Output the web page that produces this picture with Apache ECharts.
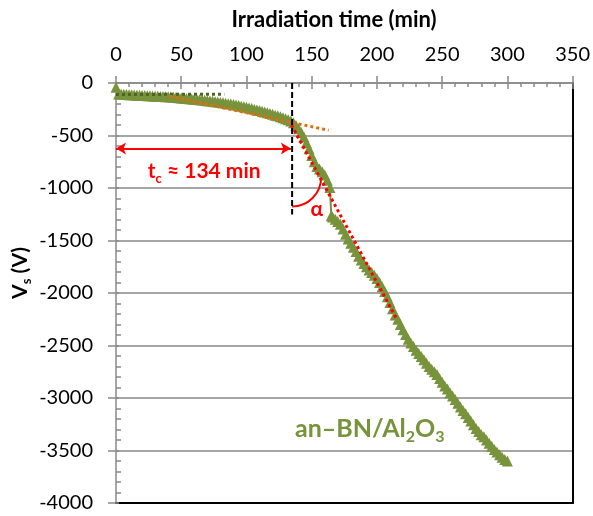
<!DOCTYPE html>
<html><head><meta charset="utf-8">
<script src="https://cdn.jsdelivr.net/npm/echarts@6/dist/echarts.min.js"></script>
<style>html,body{margin:0;padding:0;background:#fff}#c{width:593px;height:516px}</style>
</head><body><div id="c"></div>
<script>
// ---- data ----
const timeMin = [0,2,4,6,8,10,12,14,16,18,20,22,24,26,28,30,32,34,36,38,40,42,44,46,48,50,52,54,56,58,60,62,64,66,68,70,72,74,76,78,80,82,84,86,88,90,92,94,96,98,100,102,104,106,108,110,112,114,116,118,120,122,124,126,128,130,132,134,136,138,140,142,144,146,148,150,152,154,156,158,160,162,164,165,166,168,170,172,174,176,178,180,182,184,186,188,190,192,194,196,198,200,202,204,206,208,210,212,214,216,218,220,222,224,226,228,230,232,234,236,238,240,242,244,246,248,250,252,254,256,258,260,262,264,266,268,270,272,274,276,278,280,282,284,286,288,290,292,294,296,298,300];
const vsVolt = [-40,-104,-106,-108,-110,-112,-113,-114,-116,-117,-118,-120,-121,-122,-124,-125,-127,-128,-129,-131,-132,-134,-136,-138,-140,-142,-145,-147,-150,-152,-155,-158,-160,-163,-165,-168,-171,-174,-178,-181,-185,-189,-193,-197,-201,-205,-210,-215,-221,-226,-232,-238,-244,-250,-256,-262,-269,-276,-283,-290,-298,-306,-313,-321,-330,-340,-350,-362,-378,-405,-435,-472,-515,-570,-625,-690,-750,-795,-820,-845,-875,-925,-995,-1265,-1275,-1298,-1320,-1345,-1390,-1440,-1485,-1525,-1565,-1605,-1650,-1685,-1720,-1750,-1780,-1805,-1830,-1862,-1900,-1940,-1985,-2035,-2090,-2150,-2210,-2250,-2300,-2350,-2395,-2440,-2475,-2510,-2545,-2575,-2605,-2635,-2670,-2700,-2725,-2750,-2775,-2815,-2850,-2885,-2915,-2950,-2980,-3015,-3050,-3085,-3120,-3150,-3185,-3220,-3255,-3290,-3320,-3350,-3370,-3400,-3430,-3460,-3490,-3515,-3540,-3565,-3585,-3600];

const xTickValues = [0,50,100,150,200,250,300,350];
const yTickValues = [0,-500,-1000,-1500,-2000,-2500,-3000,-3500,-4000];

// trend lines (end points in data units)
const fitInitial = [[0,-110],[83,-106]];
const fitMiddle = [[41,-127],[163,-450]];
const fitFinal = [[134.5,-400],[215.5,-2255]];
// annotations (data units)
const tcValue = 134;
const tcMarker = [[135,0],[135,-1252]];
const tcArrow = [[0,-624],[134,-624]];
const tcLabelAt = [[67.6,-840]];
const arcCenter = [[135,-900]];
const alphaAt = [[154,-1205]];
const sampleLabelAt = [[194.5,-3290]];

const xTitle = 'Irradiation time (min)';
const sampleName = ['an–BN/Al','2','O','3'];

// ---- chart ----
const GRAY = '#898989';
const FONT = 'Lato';
const xMin = xTickValues[0], xMax = xTickValues[xTickValues.length-1], xInt = xTickValues[1]-xTickValues[0];
const yMax = yTickValues[0], yMin = yTickValues[yTickValues.length-1], yInt = yTickValues[0]-yTickValues[1];

const pairs = timeMin.map((t,i)=>[t, vsVolt[i]]);

function textItem(richText, rich, color){
  return function(params, api){
    const p = api.coord([api.value(0), api.value(1)]);
    return {type:'text', x:p[0], y:p[1], style:{text:richText, rich:rich, align:'center', verticalAlign:'middle', fill:color}};
  };
}

const chart = echarts.init(document.getElementById('c'), null, {renderer:'canvas'});
chart.setOption({
  animation:false,
  backgroundColor:'#fff',
  grid:{left:116, right:19, top:83, bottom:13, containLabel:false},
  xAxis:[
    {type:'value', position:'top', min:xMin, max:xMax, interval:xInt,
     axisLine:{show:true, onZero:false, lineStyle:{color:GRAY, width:1.5}},
     axisTick:{show:true, inside:false, length:7, lineStyle:{color:GRAY, width:1.5}},
     minorTick:{show:false},
     axisLabel:{show:true, margin:18, fontFamily:FONT, fontSize:20, color:'#000', formatter:v=>String(v)},
     splitLine:{show:false}},
    {type:'value', position:'top', min:xMin, max:xMax, interval:xInt,
     axisLine:{show:false, onZero:false},
     axisTick:{show:true, inside:true, length:6, lineStyle:{color:GRAY, width:1.5}},
     minorTick:{show:true, splitNumber:5, length:4, lineStyle:{color:GRAY, width:1.5}},
     axisLabel:{show:false}, splitLine:{show:false}},
    {type:'value', position:'bottom', min:xMin, max:xMax, interval:xInt,
     axisLine:{show:true, onZero:false, lineStyle:{color:'#000', width:2}},
     axisTick:{show:false}, axisLabel:{show:false}, splitLine:{show:false}}
  ],
  yAxis:[
    {type:'value', position:'left', min:yMin, max:yMax, interval:yInt,
     axisLine:{show:true, onZero:false, lineStyle:{color:GRAY, width:1.5}},
     axisTick:{show:true, inside:false, length:8, lineStyle:{color:GRAY, width:1.5}},
     minorTick:{show:false},
     axisLabel:{show:true, margin:23, fontFamily:FONT, fontSize:20, color:'#000', formatter:v=>String(v)},
     splitLine:{show:true, lineStyle:{color:GRAY, width:1.5}}},
    {type:'value', position:'left', min:yMin, max:yMax, interval:yInt,
     axisLine:{show:false, onZero:false},
     axisTick:{show:true, inside:true, length:3, lineStyle:{color:GRAY, width:1.5}},
     minorTick:{show:true, splitNumber:5, length:5, lineStyle:{color:GRAY, width:1.5}},
     axisLabel:{show:false}, splitLine:{show:false}},
    {type:'value', position:'right', min:yMin, max:yMax, interval:yInt,
     axisLine:{show:true, onZero:false, lineStyle:{color:'#000', width:2}},
     axisTick:{show:false}, axisLabel:{show:false}, splitLine:{show:false}}
  ],
  graphic:[
    {type:'text', x:334, y:20, style:{text:xTitle, font:'bold 22px Lato', fill:'#000', align:'center', verticalAlign:'middle'}},
    {type:'text', x:20, y:273, rotation:Math.PI/2,
     style:{text:'{b|V}{s|s}{b| (V)}', align:'center', verticalAlign:'middle', fill:'#000',
       rich:{b:{fontFamily:FONT, fontWeight:'bold', fontSize:21, lineHeight:26, fill:'#000'},
             s:{fontFamily:FONT, fontWeight:'bold', fontSize:13, lineHeight:26, verticalAlign:'bottom', fill:'#000'}}}}
  ],
  series:[
    {type:'line', name:'an-BN/Al2O3', data:pairs, xAxisIndex:0, yAxisIndex:0,
     symbol:'triangle', symbolSize:11, showSymbol:true, showAllSymbol:true,
     itemStyle:{color:'#77933c'}, lineStyle:{color:'#77933c', width:2}, z:3, silent:true},
    {type:'line', data:fitInitial, symbol:'none', z:4, silent:true,
     lineStyle:{color:'#4f6228', width:3, type:[3,3]}},
    {type:'line', data:fitMiddle, symbol:'none', z:4, silent:true,
     lineStyle:{color:'#e46c0a', width:3, type:[3,3]}},
    {type:'line', data:fitFinal, symbol:'none', z:4, silent:true,
     lineStyle:{color:'#ff0000', width:3, type:[3,3]}},
    {type:'line', data:tcMarker, symbol:'none', z:5, silent:true,
     lineStyle:{color:'#000', width:2, type:[6,3]},
     markLine:{silent:true, symbol:['arrow','arrow'], symbolSize:[9,10], label:{show:false},
       lineStyle:{color:'#ff0000', width:2, type:'solid'},
       data:[[{coord:tcArrow[0]},{coord:tcArrow[1]}]]}},
    {type:'custom', data:arcCenter, z:5, silent:true,
     renderItem:function(params, api){
       const c = api.coord([api.value(0), api.value(1)]);
       return {type:'arc', shape:{cx:c[0], cy:c[1], r:29, startAngle:0, endAngle:Math.PI/2, clockwise:true},
         style:{stroke:'#ff0000', lineWidth:2, fill:null}};
     }},
    {type:'custom', data:tcLabelAt, z:6, silent:true,
     renderItem:textItem('{b|t}{s|c}{b| ≈ ' + tcValue + ' min}',
       {b:{fontFamily:FONT, fontWeight:'bold', fontSize:21, lineHeight:28, fill:'#ff0000'},
        s:{fontFamily:FONT, fontWeight:'bold', fontSize:13, lineHeight:28, verticalAlign:'bottom', fill:'#ff0000'}}, '#ff0000')},
    {type:'custom', data:alphaAt, z:6, silent:true,
     renderItem:textItem('{b|α}', {b:{fontFamily:FONT, fontWeight:'bold', fontSize:21, fill:'#ff0000'}}, '#ff0000')},
    {type:'custom', data:sampleLabelAt, z:6, silent:true,
     renderItem:textItem('{b|' + sampleName[0] + '}{s|' + sampleName[1] + '}{b|' + sampleName[2] + '}{s|' + sampleName[3] + '}',
       {b:{fontFamily:FONT, fontWeight:'bold', fontSize:25, lineHeight:32, fill:'#77933c'},
        s:{fontFamily:FONT, fontWeight:'bold', fontSize:16, lineHeight:32, verticalAlign:'bottom', fill:'#77933c'}}, '#77933c')}
  ]
});
</script></body></html>
